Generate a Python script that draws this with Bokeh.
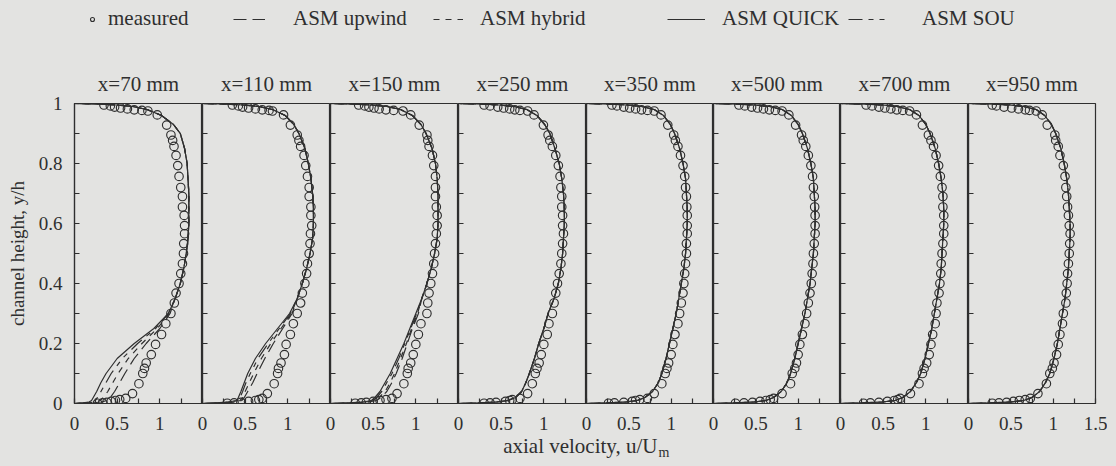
from bokeh.plotting import figure
from bokeh.layouts import row, column
from bokeh.models import Range1d, FixedTicker, Legend, LegendItem, Label, NumeralTickFormatter
from bokeh.embed import file_html
from bokeh.resources import INLINE

# ---------------- data ----------------
STATIONS = ["x=70 mm", "x=110 mm", "x=150 mm", "x=250 mm",
            "x=350 mm", "x=500 mm", "x=700 mm", "x=950 mm"]

X_TICKS = [0, 0.5, 1]
X_TICKS_LAST = [0, 0.5, 1, 1.5]
X_MINOR = [0.25, 0.75, 1.25]
Y_TICKS = [0, 0.2, 0.4, 0.6, 0.8, 1.0]
Y_MINOR = [0.1, 0.3, 0.5, 0.7, 0.9]
Y_TICKS_UNLABELLED = [0.1, 0.2, 0.3, 0.4, 0.5, 0.6, 0.7, 0.8, 0.9]

# measured points (y/h) common to all stations
MEAS_Y = [0.001, 0.002, 0.004, 0.007, 0.010, 0.013, 0.017, 0.033,
          0.066, 0.100, 0.117, 0.135, 0.163, 0.197, 0.230, 0.266, 0.300, 0.335,
          0.368, 0.400, 0.433, 0.466, 0.500, 0.533, 0.566, 0.593, 0.627, 0.655,
          0.690, 0.720, 0.757, 0.793, 0.827, 0.857, 0.877, 0.895, 0.928,
          0.962, 0.975, 0.977, 0.979, 0.982, 0.985, 0.988, 0.992, 0.995]

U70 = [0.27, 0.33, 0.38, 0.43, 0.48, 0.53, 0.60, 0.68,
       0.755, 0.80, 0.82, 0.84, 0.90, 0.95, 1.02, 1.07, 1.13, 1.17, 1.19, 1.225, 1.245, 1.265,
       1.277, 1.28, 1.29, 1.29, 1.285, 1.265, 1.265, 1.245, 1.225, 1.21, 1.19, 1.166, 1.15, 1.13, 1.08,
       0.97, 0.86, 0.79, 0.70, 0.62, 0.54, 0.47, 0.42, 0.345]
U110 = [0.29, 0.37, 0.45, 0.54, 0.62, 0.66, 0.70, 0.76,
        0.84, 0.88, 0.89, 0.92, 0.96, 0.98, 1.03, 1.065, 1.11, 1.15, 1.17, 1.20, 1.22, 1.23,
        1.25, 1.26, 1.265, 1.28, 1.27, 1.27, 1.25, 1.25, 1.23, 1.21, 1.19, 1.15, 1.13, 1.11, 1.03,
        0.95, 0.82, 0.78, 0.70, 0.62, 0.54, 0.47, 0.42, 0.35]
U150 = [0.29, 0.36, 0.42, 0.50, 0.58, 0.65, 0.72, 0.78,
        0.86, 0.90, 0.91, 0.94, 0.97, 1.00, 1.03, 1.06, 1.13, 1.14, 1.155, 1.175, 1.195, 1.21,
        1.22, 1.23, 1.24, 1.25, 1.25, 1.24, 1.23, 1.23, 1.23, 1.21, 1.195, 1.155, 1.14, 1.13, 1.04,
        0.94, 0.85, 0.74, 0.65, 0.57, 0.51, 0.45, 0.40, 0.33]
U250 = [0.30, 0.37, 0.44, 0.55, 0.60, 0.63, 0.72, 0.81,
        0.865, 0.90, 0.92, 0.945, 0.97, 1.00, 1.04, 1.06, 1.10, 1.12, 1.14, 1.16, 1.18, 1.20,
        1.21, 1.22, 1.23, 1.22, 1.22, 1.21, 1.21, 1.20, 1.19, 1.17, 1.14, 1.10, 1.07, 1.05, 0.995,
        0.885, 0.81, 0.72, 0.66, 0.60, 0.53, 0.46, 0.37, 0.30]
U350 = [0.26, 0.33, 0.44, 0.54, 0.58, 0.63, 0.72, 0.80,
        0.89, 0.93, 0.95, 0.97, 1.00, 1.02, 1.045, 1.08, 1.10, 1.12, 1.14, 1.15, 1.16, 1.17,
        1.18, 1.18, 1.19, 1.19, 1.19, 1.185, 1.18, 1.17, 1.16, 1.14, 1.11, 1.08, 1.05, 1.03, 0.96,
        0.88, 0.80, 0.72, 0.65, 0.58, 0.51, 0.44, 0.36, 0.30]
U500 = [0.26, 0.36, 0.46, 0.55, 0.62, 0.67, 0.71, 0.81,
        0.91, 0.93, 0.96, 0.98, 1.00, 1.02, 1.05, 1.08, 1.10, 1.12, 1.14, 1.155, 1.165, 1.175,
        1.18, 1.19, 1.20, 1.20, 1.20, 1.195, 1.19, 1.18, 1.17, 1.15, 1.12, 1.09, 1.06, 1.04, 0.97,
        0.89, 0.81, 0.73, 0.66, 0.59, 0.52, 0.45, 0.37, 0.30]
U700 = [0.27, 0.35, 0.45, 0.55, 0.63, 0.67, 0.70, 0.82,
        0.92, 0.96, 0.98, 1.01, 1.04, 1.06, 1.08, 1.11, 1.12, 1.13, 1.155, 1.165, 1.175, 1.18,
        1.19, 1.20, 1.21, 1.21, 1.21, 1.20, 1.20, 1.19, 1.17, 1.15, 1.12, 1.09, 1.06, 1.03, 0.96,
        0.89, 0.81, 0.73, 0.66, 0.59, 0.52, 0.45, 0.37, 0.30]
U950 = [0.28, 0.36, 0.45, 0.53, 0.60, 0.67, 0.73, 0.82,
        0.92, 0.96, 0.99, 1.01, 1.04, 1.06, 1.08, 1.11, 1.12, 1.15, 1.155, 1.165, 1.17, 1.18,
        1.19, 1.195, 1.20, 1.19, 1.18, 1.17, 1.16, 1.15, 1.14, 1.12, 1.08, 1.06, 1.03, 1.02, 0.93,
        0.87, 0.80, 0.72, 0.67, 0.59, 0.51, 0.42, 0.33, 0.28]

# model profiles: near-wall part (LOW_Y) differs per scheme, outer part (UP_Y) shared
LOW_Y = [0.0, 0.002, 0.005, 0.01, 0.02, 0.04, 0.07, 0.1, 0.15, 0.2, 0.25, 0.3]
UP_Y = [0.35, 0.4, 0.45, 0.5, 0.55, 0.6, 0.65, 0.7, 0.75, 0.8, 0.85, 0.9,
        0.93, 0.96, 0.98, 0.99, 0.995, 0.998, 1.0]

UP70 = [1.18, 1.24, 1.28, 1.31, 1.33, 1.34, 1.34, 1.34, 1.33, 1.32, 1.29, 1.24, 1.16, 1.02, 0.85, 0.68, 0.50, 0.30, 0.0]
UP110 = [1.11, 1.17, 1.22, 1.26, 1.29, 1.30, 1.30, 1.29, 1.27, 1.24, 1.20, 1.13, 1.07, 0.97, 0.82, 0.66, 0.48, 0.28, 0.0]
UP150 = [1.07, 1.13, 1.18, 1.22, 1.25, 1.26, 1.26, 1.26, 1.25, 1.23, 1.19, 1.12, 1.06, 0.96, 0.82, 0.66, 0.48, 0.28, 0.0]
UP250 = [1.12, 1.17, 1.20, 1.22, 1.23, 1.24, 1.24, 1.23, 1.21, 1.18, 1.13, 1.07, 1.01, 0.92, 0.80, 0.65, 0.48, 0.28, 0.0]
UP350 = [1.09, 1.12, 1.15, 1.17, 1.18, 1.19, 1.19, 1.18, 1.17, 1.14, 1.10, 1.04, 0.99, 0.91, 0.80, 0.65, 0.48, 0.28, 0.0]
UP500 = [1.11, 1.14, 1.16, 1.18, 1.19, 1.20, 1.20, 1.19, 1.18, 1.15, 1.11, 1.05, 1.00, 0.92, 0.81, 0.66, 0.48, 0.28, 0.0]
UP700 = [1.13, 1.16, 1.18, 1.19, 1.20, 1.21, 1.21, 1.20, 1.18, 1.15, 1.11, 1.05, 1.00, 0.92, 0.81, 0.66, 0.48, 0.28, 0.0]
UP950 = [1.14, 1.16, 1.18, 1.19, 1.20, 1.20, 1.19, 1.18, 1.16, 1.13, 1.09, 1.03, 0.98, 0.90, 0.80, 0.65, 0.48, 0.28, 0.0]

L70_UPWIND = [0.0, 0.20, 0.32, 0.38, 0.42, 0.47, 0.53, 0.59, 0.70, 0.84, 1.00, 1.12]
L70_HYBRID = [0.0, 0.15, 0.25, 0.30, 0.34, 0.39, 0.45, 0.51, 0.63, 0.79, 0.97, 1.11]
L70_QUICK = [0.0, 0.10, 0.17, 0.20, 0.22, 0.26, 0.31, 0.37, 0.50, 0.70, 0.93, 1.10]
L70_SOU = [0.0, 0.12, 0.20, 0.24, 0.27, 0.31, 0.37, 0.43, 0.56, 0.74, 0.95, 1.10]

L110_UPWIND = [0.0, 0.22, 0.38, 0.46, 0.49, 0.53, 0.59, 0.64, 0.73, 0.83, 0.94, 1.05]
L110_HYBRID = [0.0, 0.20, 0.36, 0.44, 0.47, 0.50, 0.55, 0.60, 0.69, 0.80, 0.92, 1.04]
L110_QUICK = [0.0, 0.15, 0.30, 0.40, 0.42, 0.45, 0.49, 0.53, 0.62, 0.74, 0.88, 1.02]
L110_SOU = [0.0, 0.17, 0.33, 0.42, 0.44, 0.47, 0.51, 0.56, 0.65, 0.77, 0.90, 1.03]

L150_UPWIND = [0.0, 0.24, 0.44, 0.54, 0.59, 0.66, 0.72, 0.77, 0.84, 0.90, 0.96, 1.03]
L150_HYBRID = [0.0, 0.22, 0.42, 0.52, 0.57, 0.64, 0.70, 0.75, 0.82, 0.89, 0.95, 1.02]
L150_QUICK = [0.0, 0.20, 0.38, 0.48, 0.52, 0.58, 0.64, 0.70, 0.78, 0.86, 0.93, 1.00]
L150_SOU = [0.0, 0.21, 0.40, 0.50, 0.54, 0.60, 0.66, 0.72, 0.80, 0.87, 0.94, 1.01]

# downstream stations: all four schemes coincide
L250 = [0.0, 0.25, 0.45, 0.58, 0.67, 0.74, 0.79, 0.83, 0.89, 0.94, 1.00, 1.05]
L350 = [0.0, 0.25, 0.47, 0.60, 0.69, 0.78, 0.85, 0.89, 0.94, 0.98, 1.02, 1.06]
L500 = [0.0, 0.25, 0.48, 0.62, 0.71, 0.80, 0.87, 0.91, 0.96, 1.00, 1.04, 1.08]
L700 = [0.0, 0.26, 0.49, 0.64, 0.73, 0.82, 0.89, 0.94, 0.99, 1.03, 1.07, 1.10]
L950 = [0.0, 0.26, 0.50, 0.65, 0.75, 0.84, 0.91, 0.96, 1.01, 1.05, 1.08, 1.11]

MEASURED = [U70, U110, U150, U250, U350, U500, U700, U950]
UPPER = [UP70, UP110, UP150, UP250, UP350, UP500, UP700, UP950]
LOWER = [
    (L70_UPWIND, L70_HYBRID, L70_QUICK, L70_SOU),
    (L110_UPWIND, L110_HYBRID, L110_QUICK, L110_SOU),
    (L150_UPWIND, L150_HYBRID, L150_QUICK, L150_SOU),
    (L250, L250, L250, L250),
    (L350, L350, L350, L350),
    (L500, L500, L500, L500),
    (L700, L700, L700, L700),
    (L950, L950, L950, L950),
]
SCHEMES = ["ASM upwind", "ASM hybrid", "ASM QUICK", "ASM SOU"]

# ---------------- style ----------------
FONT = "Liberation Serif"
INK = "#2f2f2f"
BG = "#e3e3e1"
DASHES = ["13 6", "6 6", "solid", "14 6 5 6 5 6"]
LW = 1.2

FRAME_W = [128, 128, 128, 128, 127, 127, 128, 127]
LEG_H = 36
TOP = 67
BOTTOM = 36
FRAME_H = 300
PAGE_W = 1116

panels = []
for i in range(8):
    first = i == 0
    last = i == 7
    left = 74 if first else 8
    right = 12 if last else 0
    p = figure(width=left + FRAME_W[i] + right, height=TOP + FRAME_H + BOTTOM,
               x_range=Range1d(0, 1.5), y_range=Range1d(0, 1),
               output_backend="svg", toolbar_location=None,
               min_border_left=left, min_border_right=right,
               min_border_top=TOP, min_border_bottom=BOTTOM,
               title=STATIONS[i])
    p.background_fill_alpha = 0
    p.border_fill_alpha = 0
    p.outline_line_color = INK
    p.outline_line_width = LW
    p.grid.visible = False
    p.title.align = "center"
    p.title.standoff = 15
    p.title.text_font = FONT
    p.title.text_font_size = "21px"
    p.title.text_font_style = "normal"
    p.title.text_color = INK

    xa = p.xaxis[0]
    xa.ticker = FixedTicker(ticks=X_TICKS_LAST if last else X_TICKS, minor_ticks=X_MINOR)
    xa.formatter = NumeralTickFormatter(format="0.[0]")
    ya = p.yaxis[0]
    if first:
        ya.ticker = FixedTicker(ticks=Y_TICKS, minor_ticks=Y_MINOR)
    else:
        ya.ticker = FixedTicker(ticks=[], minor_ticks=Y_TICKS_UNLABELLED)
    ya.formatter = NumeralTickFormatter(format="0.[0]")
    for ax in (xa, ya):
        ax.axis_line_color = INK
        ax.axis_line_width = LW
        ax.major_tick_line_color = INK
        ax.minor_tick_line_color = INK
        ax.major_tick_line_width = LW
        ax.minor_tick_line_width = LW
        ax.major_tick_in = 5
        ax.major_tick_out = 0
        ax.minor_tick_in = 5
        ax.minor_tick_out = 0
        ax.major_label_text_font = FONT
        ax.major_label_text_font_size = "19px"
        ax.major_label_text_color = INK
    xa.major_label_standoff = 13
    if first:
        ya.major_label_standoff = 12
        ya.axis_label = "channel height, y/h"
        ya.axis_label_text_font = FONT
        ya.axis_label_text_font_size = "19px"
        ya.axis_label_text_font_style = "normal"
        ya.axis_label_text_color = INK
        ya.axis_label_standoff = 8
    else:
        ya.major_label_standoff = 0
        p.margin = (0, 0, 0, -8)

    y_model = LOW_Y + UP_Y
    for k in range(4):
        u_model = list(LOWER[i][k]) + UPPER[i]
        p.line(x=u_model, y=y_model, line_color=INK, line_width=LW, line_dash=DASHES[k])
    p.scatter(x=MEASURED[i], y=MEAS_Y, marker="circle", size=8.5, fill_color=None,
              line_color=INK, line_width=1.15)
    panels.append(p)

# legend strip (its sample renderers hold one point each, outside the visible range)
lg = figure(width=PAGE_W, height=LEG_H, x_range=Range1d(0, 1), y_range=Range1d(0, 1),
            output_backend="svg", toolbar_location=None, min_border=0,
            x_axis_type=None, y_axis_type=None)
lg.grid.visible = False
lg.outline_line_color = None
lg.background_fill_alpha = 0
lg.border_fill_alpha = 0
r_meas = lg.scatter(x=[5], y=[5], marker="circle", size=6.5, fill_color=None,
                    line_color=INK, line_width=1.1)
r_lines = [lg.line(x=[5, 6], y=[5, 6], line_color=INK, line_width=LW, line_dash=d) for d in DASHES]

legend_specs = [
    (r_meas, "measured", 87, 10, 11),
    (r_lines[0], SCHEMES[0], 233, 32, 28),
    (r_lines[1], SCHEMES[1], 433, 30, 17),
    (r_lines[2], SCHEMES[2], 667, 38, 17),
    (r_lines[3], SCHEMES[3], 848, 42, 32),
]
for r, lab, x, gw, so in legend_specs:
    leg = Legend(items=[LegendItem(label=lab, renderers=[r])], location=(x, 5),
                 orientation="horizontal", glyph_width=gw, glyph_height=20,
                 label_standoff=so, padding=0, margin=0,
                 border_line_color=None, background_fill_alpha=0,
                 label_text_font=FONT, label_text_font_size="21px",
                 label_text_color=INK)
    lg.add_layout(leg)

# x-axis title strip (overlaps the tick-label band slightly, transparent)
XL_H = 39
xl = figure(width=PAGE_W, height=XL_H, x_range=Range1d(0, 1), y_range=Range1d(0, 1),
            output_backend="svg", toolbar_location=None, min_border=0,
            x_axis_type=None, y_axis_type=None)
xl.grid.visible = False
xl.outline_line_color = None
xl.background_fill_alpha = 0
xl.border_fill_alpha = 0
xl.margin = (-12, 0, 0, 0)
xl.add_layout(Label(x=657, y=21, x_units="screen", y_units="screen",
                    text="axial velocity, u/U", text_align="right", text_baseline="middle",
                    text_font=FONT, text_font_size="21px", text_color=INK))
xl.add_layout(Label(x=658, y=14, x_units="screen", y_units="screen",
                    text="m", text_align="left", text_baseline="middle",
                    text_font=FONT, text_font_size="14px", text_color=INK))

layout = column(lg, row(*panels), xl,
                styles={"background-color": BG, "box-shadow": "0 0 0 8px " + BG})

open("out.html", "w").write(file_html(layout, INLINE))
